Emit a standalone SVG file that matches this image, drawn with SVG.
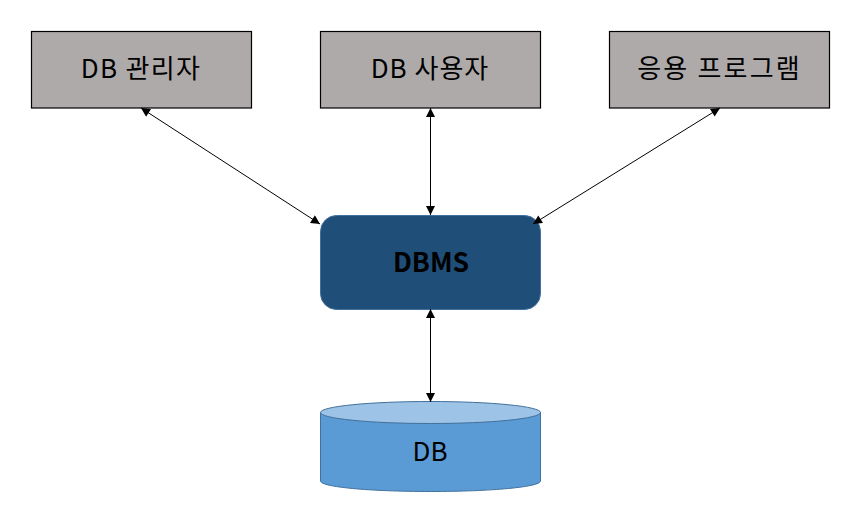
<svg xmlns="http://www.w3.org/2000/svg" width="862" height="516" viewBox="0 0 862 516">
<defs>
<marker id="a" viewBox="0 0 10 10" refX="10" refY="5" markerUnits="userSpaceOnUse" markerWidth="10" markerHeight="9" orient="auto-start-reverse"><path d="M0 0L10 5L0 10Z" fill="#000"/></marker>
</defs>
<style>
.box{fill:#aeaaaa;stroke:#000;stroke-width:1.2}
.t{font-family:"Noto Sans CJK KR","Open Sans",sans-serif;font-size:26px;fill:#000;text-anchor:middle}
.c{stroke:#000;stroke-width:1;fill:none;marker-start:url(#a);marker-end:url(#a)}
</style>
<rect width="862" height="516" fill="#fff"/>
<g id="admin"><rect class="box" x="31.500" y="31.500" width="220" height="76.500"/><text class="t" x="141" y="78" letter-spacing="1.300">DB 관리자</text></g>
<g id="user"><rect class="box" x="320.500" y="31.500" width="220" height="76.500"/><text class="t" x="430" y="78" letter-spacing="1">DB 사용자</text></g>
<g id="app"><rect class="box" x="609.500" y="31.500" width="220" height="76.500"/><text class="t" x="719.500" y="78" letter-spacing="2.200">응용 프로그램</text></g>
<g id="dbms"><rect x="320.500" y="215.500" width="220" height="94" rx="16" fill="#1f4e79" stroke="#41719c"/><text class="t" x="431" y="272" style="font-size:26.500px" font-weight="700">DBMS</text></g>
<g id="db">
<path d="M320.500 412.500V481C320.500 487 369.500 491.500 430.500 491.500S540.500 487 540.500 481V412.500Z" fill="#5b9bd5" stroke="#41719c"/>
<ellipse cx="430.500" cy="412.500" rx="110" ry="11" fill="#9dc3e6" stroke="#41719c"/>
<text class="t" x="430" y="461">DB</text>
</g>
<g id="connectors">
<line class="c" x1="141" y1="108" x2="320" y2="224"/>
<line class="c" x1="430.500" y1="108" x2="430.500" y2="215"/>
<line class="c" x1="720" y1="108" x2="533" y2="224"/>
<line class="c" x1="430.500" y1="309" x2="430.500" y2="402"/>
</g>
</svg>
